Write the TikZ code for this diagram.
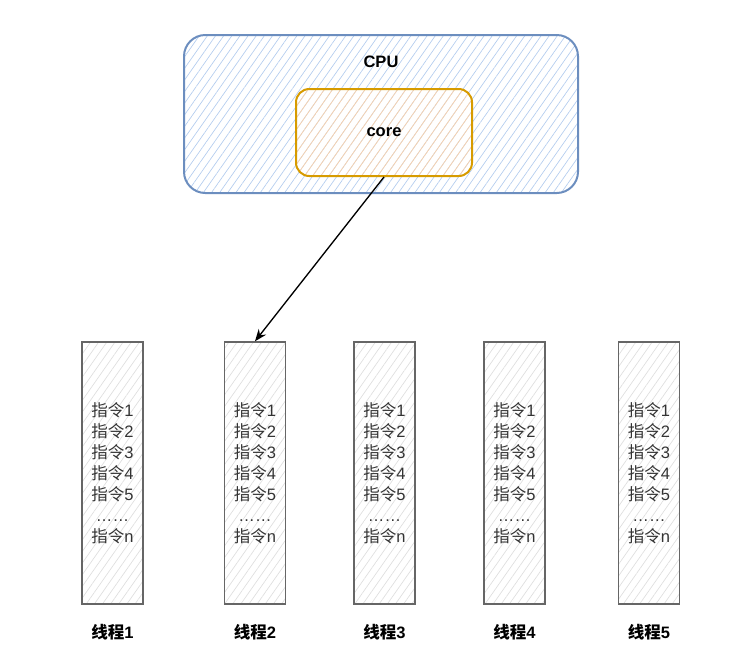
\documentclass[tikz,border=0pt]{standalone}
\usepackage{fontspec}
\setmainfont{Liberation Sans}
\newfontfamily\cjk{Noto Sans CJK SC}
\usetikzlibrary{positioning,arrows.meta,patterns.meta}
\definecolor{cpurand}{HTML}{6C8EBF}
\definecolor{cpustrich}{HTML}{B3CCEE}
\definecolor{kernrand}{HTML}{D79B00}
\definecolor{kernstrich}{HTML}{FFD3A8}
\definecolor{fadenrand}{HTML}{666666}
\definecolor{fadenstrich}{HTML}{DEDEDE}
\definecolor{schrift}{HTML}{333333}
\newcommand{\befehle}{{\cjk 指令}1\\{\cjk 指令}2\\{\cjk 指令}3\\{\cjk 指令}4\\{\cjk 指令}5\\……\\{\cjk 指令}n}
\begin{document}
\begin{tikzpicture}[x=0.75pt,y=-0.75pt,font=\fontsize{12.4}{15.75}\selectfont,
					    cpubox/.style={draw=cpurand,line width=1.5pt,rounded corners=16pt,
					    	pattern={Lines[angle=55,distance=5pt,line width=0.5pt]},pattern color=cpustrich,
					    	minimum width=295.5pt,minimum height=118.5pt,inner sep=0pt},
					    kernbox/.style={draw=kernrand,line width=1.5pt,rounded corners=10pt,
					    	pattern={Lines[angle=55,distance=5pt,line width=0.5pt]},pattern color=kernstrich,
					    	minimum width=132pt,minimum height=65.25pt,inner sep=0pt,font=\fontsize{12.4}{15.75}\selectfont\bfseries},
					    faden/.style={draw=fadenrand,line width=1.1pt,
					    	pattern={Lines[angle=55,distance=5pt,line width=0.5pt]},pattern color=fadenstrich,
					    	minimum width=46pt,minimum height=196.5pt,inner sep=0pt,align=center,text=schrift},
					    fadenname/.style={font=\fontsize{12.4}{15.75}\selectfont\bfseries,below=11pt of #1}]
				\useasboundingbox (0,0) rectangle (743,669);
				% CPU mit einem Kern
				\node[cpubox] (cpu) at (381,114) {};
				\node[font=\fontsize{12.4}{15.75}\selectfont\bfseries] (cputext) at (381,62) {CPU};
				\node[kernbox] (core) at (384,132.5) {core};
				% fuenf Threads
				\node[faden] (t1) at (112.5,473) {\befehle};
				\node[faden] (t2) at (255,473) {\befehle};
				\node[faden] (t3) at (384.5,473) {\befehle};
				\node[faden] (t4) at (514.5,473) {\befehle};
				\node[faden] (t5) at (649,473) {\befehle};
				\node[fadenname=t1] (n1) {{\cjk 线程}1};
				\node[fadenname=t2] (n2) {{\cjk 线程}2};
				\node[fadenname=t3] (n3) {{\cjk 线程}3};
				\node[fadenname=t4] (n4) {{\cjk 线程}4};
				\node[fadenname=t5] (n5) {{\cjk 线程}5};
				% Kern arbeitet an Thread 2
				\draw[line width=1pt,-{Stealth[length=9pt,width=7pt]}] (core.south) -- (t2.north);
			\end{tikzpicture}
\end{document}
